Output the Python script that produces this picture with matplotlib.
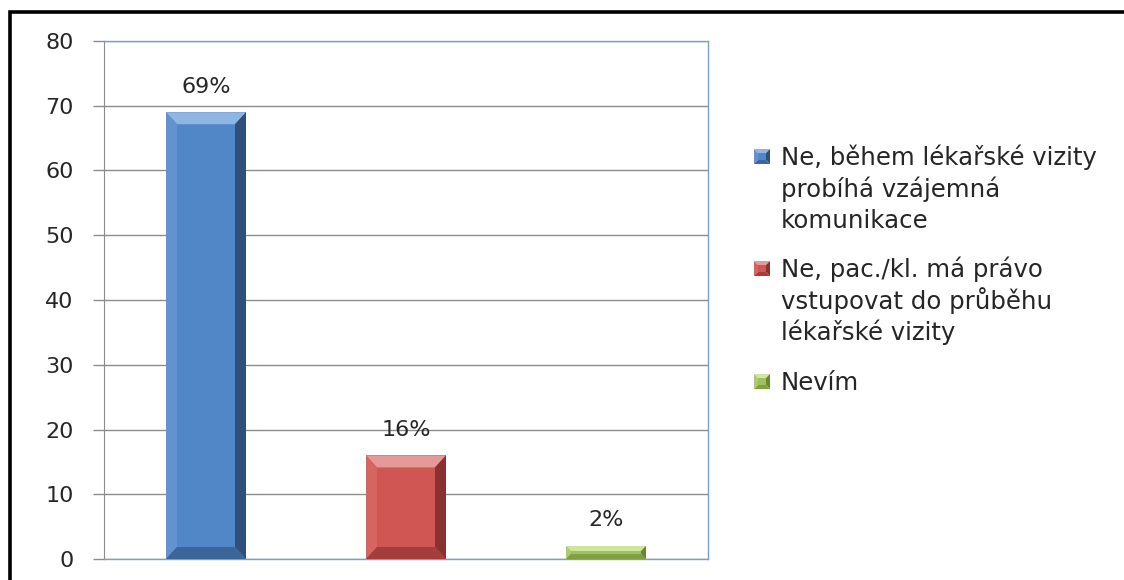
import matplotlib
matplotlib.use("Agg")
import matplotlib.pyplot as plt
from matplotlib.patches import Polygon, Rectangle

# Survey answers and their shares (percent)
categories = [
    "Ne, během lékařské vizity\nprobíhá vzájemná\nkomunikace",
    "Ne, pac./kl. má právo\nvstupovat do průběhu\nlékařské vizity",
    "Nevím",
]
values = [69, 16, 2]
value_labels = ["69%", "16%", "2%"]
y_ticks = [0, 10, 20, 30, 40, 50, 60, 70, 80]

# face, top bevel, left bevel, right bevel, bottom bevel
palettes = [
    ("#5287C7", "#8FB5E3", "#6292CF", "#30507A", "#3D6698"),
    ("#CF5653", "#E69A98", "#D66461", "#873230", "#A23F3C"),
    ("#A0C25C", "#D0E69D", "#ACCB6C", "#6A8834", "#7F9F42"),
]

FONT = "DejaVu Sans"
TEXT_COLOR = "#262626"
W, H = 1124, 580
fig = plt.figure(figsize=(W / 100, H / 100), dpi=100)
fig.patch.set_facecolor("white")

# outer frame running off the right and bottom edges
fig.add_artist(Rectangle((9.5 / W, -0.2), 1.2, 1.2 - 11.5 / H,
                         transform=fig.transFigure, fill=False,
                         edgecolor="black", linewidth=2.6))

ax = fig.add_axes([104 / W, (H - 559) / H, 604 / W, 518 / H])
ax.set_xlim(-0.51, len(values) - 0.49)
ax.set_ylim(0, 80)
ax.set_yticks(y_ticks)
ax.set_xticks([])
ax.yaxis.grid(True, color="#8C8C8C", linewidth=1.0)
ax.set_axisbelow(True)
ax.tick_params(axis="y", length=8, width=1.0, color="#8C8C8C", pad=14,
               labelsize=16, labelcolor=TEXT_COLOR)
for lab in ax.get_yticklabels():
    lab.set_fontfamily(FONT)
ax.spines["left"].set_color("#8C8C8C")
for s in ("top", "right", "bottom"):
    ax.spines[s].set_color("#7BA0CD")
    ax.spines[s].set_linewidth(1.0)

bar_w = 0.4
xs = list(range(len(values)))
bars = ax.bar(xs, values, width=bar_w, color=[p[0] for p in palettes],
              edgecolor="none", zorder=2)

# bevel size in data units derived from the axes scale
p0 = ax.transData.transform((0, 0))
p1 = ax.transData.transform((1, 1))
px_x = p1[0] - p0[0]
px_y = p1[1] - p0[1]

for bar, pal in zip(bars, palettes):
    x0 = bar.get_x()
    x1 = x0 + bar.get_width()
    h = bar.get_height()
    by_px = min(12.0, h * px_y * 0.38)
    by = by_px / px_y
    bx = min(11.0, by_px) / px_x
    face, top, left, right, bottom = pal
    facets = [
        ([(x0, h), (x1, h), (x1 - bx, h - by), (x0 + bx, h - by)], top),
        ([(x0, 0), (x0 + bx, by), (x0 + bx, h - by), (x0, h)], left),
        ([(x1, 0), (x1, h), (x1 - bx, h - by), (x1 - bx, by)], right),
        ([(x0, 0), (x1, 0), (x1 - bx, by), (x0 + bx, by)], bottom),
    ]
    for pts, col in facets:
        ax.add_patch(Polygon(pts, closed=True, facecolor=col,
                             edgecolor="none", zorder=3))

for x, v, lab in zip(xs, values, value_labels):
    ax.annotate(lab, (x, v), xytext=(0, 18.5), textcoords="offset points",
                ha="center", va="center", fontsize=16, color=TEXT_COLOR,
                family=FONT)

# legend drawn at the right of the plot
def fig_xy(px, py):
    return px / W, 1 - py / H

line_h = 31.5
first_baselines = [165, 277, 390]
for cat, pal, base in zip(categories, palettes, first_baselines):
    face, top, left, right, bottom = pal
    xa, xb = 754, 770
    ya, yb = base - 16, base - 1
    ib = 4
    facets = [
        ([(xa, ya), (xb, ya), (xb - ib, ya + ib), (xa + ib, ya + ib)], top),
        ([(xa, ya), (xa + ib, ya + ib), (xa + ib, yb - ib), (xa, yb)], left),
        ([(xb, ya), (xb, yb), (xb - ib, yb - ib), (xb - ib, ya + ib)], right),
        ([(xa, yb), (xb, yb), (xb - ib, yb - ib), (xa + ib, yb - ib)], bottom),
        ([(xa + ib, ya + ib), (xb - ib, ya + ib), (xb - ib, yb - ib),
          (xa + ib, yb - ib)], face),
    ]
    for pts, col in facets:
        fig.add_artist(Polygon([fig_xy(*p) for p in pts], closed=True,
                               transform=fig.transFigure, facecolor=col,
                               edgecolor="none"))
    for i, line in enumerate(cat.split("\n")):
        fig.text(*fig_xy(781, base + i * line_h), line, ha="left",
                 va="baseline", fontsize=17.6, family=FONT, color=TEXT_COLOR)

fig.savefig("out.png", dpi=100, facecolor="white")
